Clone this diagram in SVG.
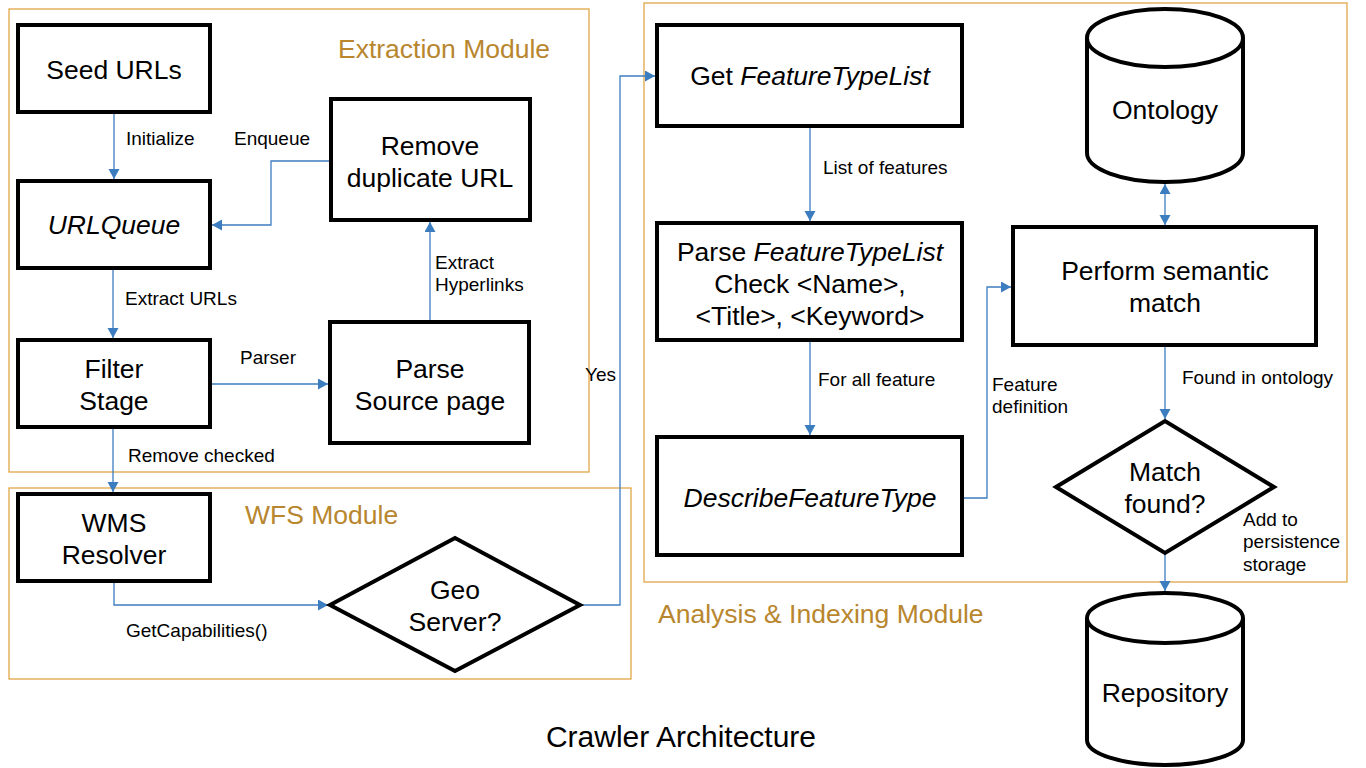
<svg xmlns="http://www.w3.org/2000/svg" width="1366" height="768" viewBox="0 0 1366 768">
<defs>
<marker id="arr" markerUnits="userSpaceOnUse" markerWidth="12" markerHeight="12" refX="10" refY="5.5" orient="auto">
<path d="M0,0 L10,5.5 L0,11 z" fill="#3C7DBF"/>
</marker>
<marker id="arrs" markerUnits="userSpaceOnUse" markerWidth="12" markerHeight="12" refX="10" refY="5.5" orient="auto-start-reverse">
<path d="M0,0 L10,5.5 L0,11 z" fill="#3C7DBF"/>
</marker>
<style>
.mod{fill:none;stroke:#E0A548;stroke-width:1.3}
.mt{font-family:"Liberation Sans",Arial,sans-serif;font-size:26.5px;fill:#B8862E}
.box{fill:#fff;stroke:#000;stroke-width:4}
.t{font-family:"Liberation Sans",Arial,sans-serif;font-size:26.5px;fill:#000;text-anchor:middle}
.i{font-style:italic}
.l{font-family:"Liberation Sans",Arial,sans-serif;font-size:19px;fill:#000}
.c{fill:none;stroke:#3C7DBF;stroke-width:1.3}
</style>
</defs>
<rect width="1366" height="768" fill="#fff"/>

<g id="modules">
<rect class="mod" x="9" y="9" width="580" height="463"/>
<rect class="mod" x="9" y="488" width="622" height="191"/>
<rect class="mod" x="644" y="3" width="703" height="579"/>
<text class="mt" x="338" y="58">Extraction Module</text>
<text class="mt" x="245" y="524">WFS Module</text>
<text class="mt" x="658" y="623">Analysis &amp; Indexing Module</text>
</g>

<g id="connectors">
<path class="c" d="M114,112 V179" marker-end="url(#arr)"/>
<path class="c" d="M113,270 V338" marker-end="url(#arr)"/>
<path class="c" d="M331,161 H271 V225 H212" marker-end="url(#arr)"/>
<path class="c" d="M430,322 V222" marker-end="url(#arr)"/>
<path class="c" d="M210,384 H328" marker-end="url(#arr)"/>
<path class="c" d="M113,427 V492" marker-end="url(#arr)"/>
<path class="c" d="M114,581 V605 H328" marker-end="url(#arr)"/>
<path class="c" d="M580,605 H620 V76 H655" marker-end="url(#arr)"/>
<path class="c" d="M810,126 V221" marker-end="url(#arr)"/>
<path class="c" d="M810,340 V435" marker-end="url(#arr)"/>
<path class="c" d="M962,498 H987 V287 H1011" marker-end="url(#arr)"/>
<path class="c" d="M1165,184 V225" marker-start="url(#arrs)" marker-end="url(#arr)"/>
<path class="c" d="M1165,345 V419" marker-end="url(#arr)"/>
<path class="c" d="M1165,553 V591" marker-end="url(#arr)"/>
</g>

<g id="labels">
<text class="l" x="126" y="145">Initialize</text>
<text class="l" x="234" y="145">Enqueue</text>
<text class="l" x="125" y="305">Extract URLs</text>
<text class="l" x="435" y="269">Extract</text>
<text class="l" x="435" y="291">Hyperlinks</text>
<text class="l" x="240" y="364">Parser</text>
<text class="l" x="128" y="462">Remove checked</text>
<text class="l" x="126" y="637">GetCapabilities()</text>
<text class="l" x="585" y="381">Yes</text>
<text class="l" x="823" y="174">List of features</text>
<text class="l" x="818" y="386">For all feature</text>
<text class="l" x="992" y="391">Feature</text>
<text class="l" x="992" y="413">definition</text>
<text class="l" x="1182" y="384">Found in ontology</text>
<text class="l" x="1243" y="526">Add to</text>
<text class="l" x="1243" y="548">persistence</text>
<text class="l" x="1243" y="571">storage</text>
</g>

<g id="seed">
<rect class="box" x="18" y="25" width="192" height="87"/>
<text class="t" x="114" y="79">Seed URLs</text>
</g>
<g id="urlqueue">
<rect class="box" x="18" y="181" width="192" height="87"/>
<text class="t i" x="114" y="234">URLQueue</text>
</g>
<g id="filter">
<rect class="box" x="18" y="340" width="192" height="87"/>
<text class="t" x="114" y="378">Filter</text>
<text class="t" x="114" y="410">Stage</text>
</g>
<g id="removedup">
<rect class="box" x="331" y="99" width="199" height="121"/>
<text class="t" x="430" y="155">Remove</text>
<text class="t" x="430" y="187">duplicate URL</text>
</g>
<g id="parsesource">
<rect class="box" x="330" y="322" width="199" height="121"/>
<text class="t" x="430" y="378">Parse</text>
<text class="t" x="430" y="410">Source page</text>
</g>
<g id="wms">
<rect class="box" x="18" y="494" width="192" height="87"/>
<text class="t" x="114" y="532">WMS</text>
<text class="t" x="114" y="564">Resolver</text>
</g>
<g id="geoserver">
<polygon class="box" points="330,605 455,538 580,605 455,671"/>
<text class="t" x="455" y="599">Geo</text>
<text class="t" x="455" y="631">Server?</text>
</g>
<g id="getftl">
<rect class="box" x="657" y="25" width="305" height="101"/>
<text class="t" x="810" y="85">Get <tspan font-style="italic">FeatureTypeList</tspan></text>
</g>
<g id="parseftl">
<rect class="box" x="657" y="223" width="305" height="117"/>
<text class="t" x="810" y="261">Parse <tspan font-style="italic">FeatureTypeList</tspan></text>
<text class="t" x="810" y="293">Check &lt;Name&gt;,</text>
<text class="t" x="810" y="325">&lt;Title&gt;, &lt;Keyword&gt;</text>
</g>
<g id="describe">
<rect class="box" x="657" y="437" width="305" height="118"/>
<text class="t i" x="810" y="507">DescribeFeatureType</text>
</g>
<g id="ontology">
<path class="box" d="M1087,38 V153 A78,29 0 0 0 1243,153 V38 A78,29 0 0 0 1087,38 A78,29 0 0 0 1243,38"/>
<text class="t" x="1165" y="119">Ontology</text>
</g>
<g id="semantic">
<rect class="box" x="1013" y="227" width="303" height="118"/>
<text class="t" x="1165" y="280">Perform semantic</text>
<text class="t" x="1165" y="312">match</text>
</g>
<g id="matchfound">
<polygon class="box" points="1056,487 1165,421 1274,487 1165,553"/>
<text class="t" x="1165" y="481">Match</text>
<text class="t" x="1165" y="513">found?</text>
</g>
<g id="repository">
<path class="box" d="M1087,618 V740 A78,25 0 0 0 1243,740 V618 A78,25 0 0 0 1087,618 A78,25 0 0 0 1243,618"/>
<text class="t" x="1165" y="702">Repository</text>
</g>

<text class="t" x="681" y="747" style="font-size:30px">Crawler Architecture</text>
</svg>
